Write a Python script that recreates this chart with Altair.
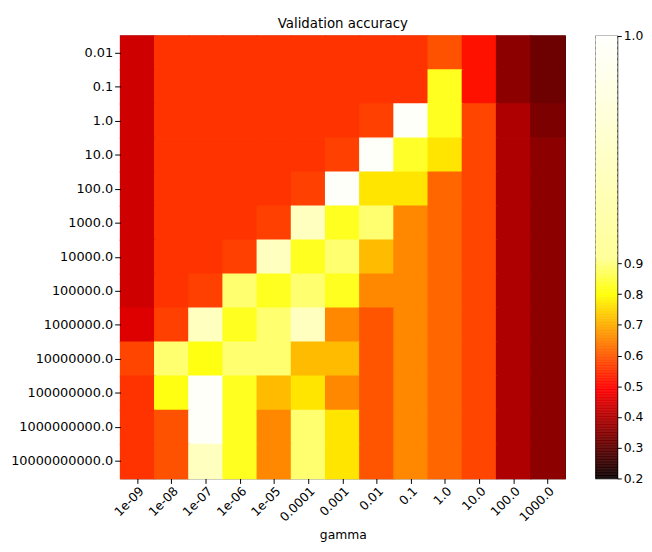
import altair as alt
import pandas as pd
import numpy as np

gamma_labels = ["1e-09", "1e-08", "1e-07", "1e-06", "1e-05", "0.0001", "0.001",
                "0.01", "0.1", "1.0", "10.0", "100.0", "1000.0"]
C_labels = ["0.01", "0.1", "1.0", "10.0", "100.0", "1000.0", "10000.0", "100000.0",
            "1000000.0", "10000000.0", "100000000.0", "1000000000.0", "10000000000.0"]

# validation accuracy, one row per C value (top to bottom), columns = gamma
acc_rows = [
    [0.433, 0.553, 0.553, 0.553, 0.553, 0.553, 0.553, 0.553, 0.553, 0.590, 0.512, 0.356, 0.317],
    [0.433, 0.553, 0.553, 0.553, 0.553, 0.553, 0.553, 0.553, 0.553, 0.822, 0.512, 0.356, 0.317],
    [0.433, 0.553, 0.553, 0.553, 0.553, 0.553, 0.553, 0.568, 0.995, 0.822, 0.574, 0.395, 0.336],
    [0.433, 0.553, 0.553, 0.553, 0.553, 0.553, 0.568, 0.995, 0.830, 0.766, 0.574, 0.395, 0.356],
    [0.433, 0.553, 0.553, 0.553, 0.553, 0.568, 0.995, 0.766, 0.766, 0.614, 0.574, 0.395, 0.356],
    [0.433, 0.553, 0.553, 0.553, 0.568, 0.950, 0.822, 0.886, 0.654, 0.614, 0.574, 0.395, 0.356],
    [0.433, 0.553, 0.553, 0.568, 0.950, 0.822, 0.886, 0.715, 0.654, 0.614, 0.574, 0.395, 0.356],
    [0.433, 0.553, 0.568, 0.886, 0.822, 0.886, 0.822, 0.654, 0.654, 0.614, 0.574, 0.395, 0.356],
    [0.453, 0.568, 0.950, 0.822, 0.886, 0.950, 0.654, 0.594, 0.654, 0.614, 0.574, 0.395, 0.356],
    [0.574, 0.886, 0.810, 0.886, 0.886, 0.715, 0.715, 0.594, 0.654, 0.614, 0.574, 0.395, 0.356],
    [0.553, 0.810, 0.995, 0.822, 0.715, 0.766, 0.654, 0.594, 0.654, 0.614, 0.574, 0.395, 0.356],
    [0.553, 0.590, 0.995, 0.822, 0.654, 0.886, 0.766, 0.594, 0.654, 0.614, 0.574, 0.395, 0.356],
    [0.553, 0.590, 0.950, 0.822, 0.654, 0.886, 0.766, 0.594, 0.654, 0.614, 0.574, 0.395, 0.356],
]

colorbar_ticks = [0.2, 0.3, 0.4, 0.5, 0.6, 0.7, 0.8, 0.9, 1.0]

records = []
for i, c in enumerate(C_labels):
    for j, g in enumerate(gamma_labels):
        records.append({"C": c, "gamma": g, "acc": acc_rows[i][j]})
df = pd.DataFrame(records)

# 'hot' colormap stops over [0.2, 1.0]
vmin, vmax = 0.2, 1.0
hot_domain = [vmin, vmin + 0.365 * (vmax - vmin), vmin + 0.746 * (vmax - vmin), vmax]
hot_range = ["#0b0000", "#ff0000", "#ffff00", "#ffffff"]
color_scale = alt.Scale(domain=hot_domain, range=hot_range, interpolate="rgb", clamp=True)

FONT = "DejaVu Sans"
H = 448

heat = alt.Chart(df, title=alt.TitleParams(
    "Validation accuracy", fontSize=13.5, font=FONT, fontWeight="normal",
    color="#000000", offset=5, anchor="middle")).mark_rect(
    strokeWidth=1.5, opacity=1, fillOpacity=1, strokeOpacity=1).encode(
    x=alt.X("gamma:O", sort=gamma_labels,
            scale=alt.Scale(paddingInner=0, paddingOuter=0),
            axis=alt.Axis(title="gamma", labelAngle=-45, tickSize=5, labelPadding=1,
                          titlePadding=5, domain=False, labelFontSize=12.5,
                          titleFontSize=12.5)),
    y=alt.Y("C:O", sort=C_labels,
            scale=alt.Scale(paddingInner=0, paddingOuter=0),
            axis=alt.Axis(title=None, tickSize=6, labelPadding=2, domain=False,
                          labelFontSize=13, minExtent=113, maxExtent=113)),
    color=alt.Color("acc:Q", scale=color_scale, legend=None),
    stroke=alt.Color("acc:Q", scale=color_scale, legend=None),
).properties(width=450, height=H)

step = 0.002
vs = np.round(np.arange(vmin, vmax, step), 4)
cb_df = pd.DataFrame({"v": vs, "v2": np.minimum(vs + step * 1.6, vmax)})

cbar = alt.Chart(cb_df).mark_rect().encode(
    x=alt.value(0), x2=alt.value(22),
    y=alt.Y("v:Q", scale=alt.Scale(domain=[0.2, 0.92, 1.0], range=[H, H / 2, 0]),
            axis=alt.Axis(orient="right", values=colorbar_ticks, format=".1f", title=None,
                          tickSize=4, labelPadding=2, domain=False, grid=False,
                          labelFontSize=12.5)),
    y2="v2:Q",
    color=alt.Color("v:Q", scale=color_scale, legend=None),
).properties(width=22, height=H)

chart = alt.hconcat(heat, cbar, spacing=28).resolve_scale(
    color="independent", y="independent", x="independent"
).properties(
    padding={"left": 0, "top": 5, "right": 0, "bottom": 0}
).configure_view(
    stroke="#000000", strokeWidth=1.2
).configure_axis(
    labelFont=FONT, titleFont=FONT, labelColor="#000000", titleColor="#000000",
    tickColor="#000000", titleFontWeight="normal", grid=False
)

chart.save("out.html", embed_options={"renderer": "svg", "actions": False})
